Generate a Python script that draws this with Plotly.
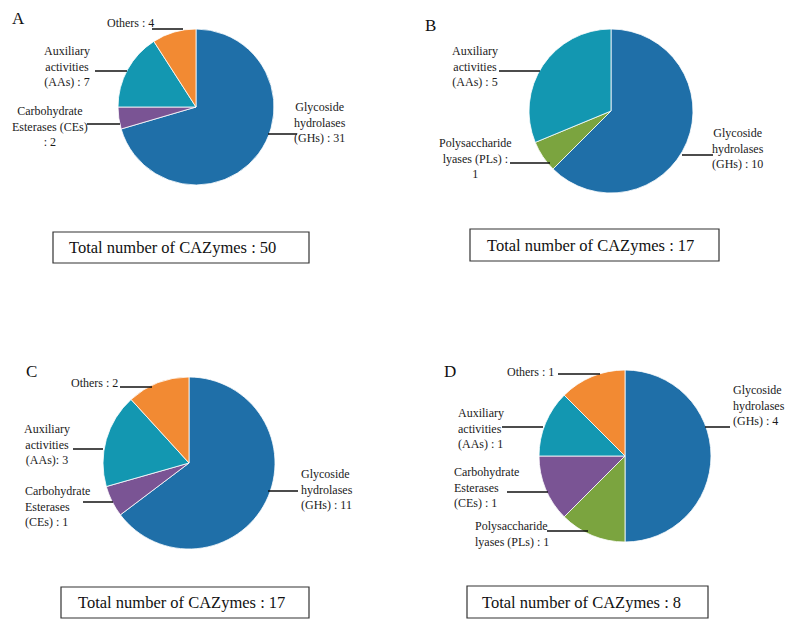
import plotly.graph_objects as go

W, H = 789, 625

# ---------------- data ----------------
cats_A = ["Glycoside hydrolases (GHs)", "Carbohydrate Esterases (CEs)", "Auxiliary activities (AAs)", "Others"]
vals_A = [31, 2, 7, 4]
total_A = 50

cats_B = ["Glycoside hydrolases (GHs)", "Polysaccharide lyases (PLs)", "Auxiliary activities (AAs)"]
vals_B = [10, 1, 5]
total_B = 17

cats_C = ["Glycoside hydrolases (GHs)", "Carbohydrate Esterases (CEs)", "Auxiliary activities (AAs)", "Others"]
vals_C = [11, 1, 3, 2]
total_C = 17

cats_D = ["Glycoside hydrolases (GHs)", "Polysaccharide lyases (PLs)", "Carbohydrate Esterases (CEs)", "Auxiliary activities (AAs)", "Others"]
vals_D = [4, 1, 1, 1, 1]
total_D = 8

colors = {
    "Glycoside hydrolases (GHs)": "#1f6fa8",
    "Carbohydrate Esterases (CEs)": "#7a5494",
    "Auxiliary activities (AAs)": "#1397b1",
    "Others": "#f28a33",
    "Polysaccharide lyases (PLs)": "#7ba43f",
}

# label text templates (line breaks as in the figure)
lab_A = {
    "Glycoside hydrolases (GHs)": "Glycoside<br>hydrolases<br>(GHs) : {}",
    "Carbohydrate Esterases (CEs)": "Carbohydrate<br>Esterases (CEs)<br>: {}",
    "Auxiliary activities (AAs)": "Auxiliary<br>activities<br>(AAs) : {}",
    "Others": "Others : {}",
}
lab_B = {
    "Glycoside hydrolases (GHs)": "Glycoside<br>hydrolases<br>(GHs) : {}",
    "Polysaccharide lyases (PLs)": "Polysaccharide<br>lyases (PLs) :<br>{}",
    "Auxiliary activities (AAs)": "Auxiliary<br>activities<br>(AAs) : {}",
}
lab_C = {
    "Glycoside hydrolases (GHs)": "Glycoside<br>hydrolases<br>(GHs) : {}",
    "Carbohydrate Esterases (CEs)": "Carbohydrate<br>Esterases<br>(CEs) : {}",
    "Auxiliary activities (AAs)": "Auxiliary<br>activities<br>(AAs): {}",
    "Others": "Others : {}",
}
lab_D = {
    "Glycoside hydrolases (GHs)": "Glycoside<br>hydrolases<br>(GHs) : {}",
    "Polysaccharide lyases (PLs)": "Polysaccharide<br>lyases (PLs) : {}",
    "Carbohydrate Esterases (CEs)": "Carbohydrate<br>Esterases<br>(CEs) : {}",
    "Auxiliary activities (AAs)": "Auxiliary<br>activities<br>(AAs) : {}",
    "Others": "Others : {}",
}

# ---------------- layout (pixels) ----------------
# pie: center x, center y, radius
pie_geom = {"A": (196, 107, 78), "B": (611, 111, 82), "C": (189, 463, 86), "D": (625, 456, 86)}
letters = {"A": (18, 18), "B": (430, 25), "C": (32, 372), "D": (450, 372)}
boxes = {"A": (53, 232, 309, 263, 67), "B": (470, 229, 719, 261, 485),
         "C": (61, 587, 309, 618, 76), "D": (467, 586, 708, 618, 480)}
# label placement: (x, y, xanchor, align) and leader line (x0, x1, y)
lab_pos = {
    "A": {
        "Others": ((130, 23, "center", "center"), (152, 183, 29)),
        "Auxiliary activities (AAs)": ((67, 67, "center", "center"), (95, 127, 71)),
        "Carbohydrate Esterases (CEs)": ((50, 126, "center", "center"), (87, 120, 124)),
        "Glycoside hydrolases (GHs)": ((320, 122, "center", "center"), (268, 297, 134)),
    },
    "B": {
        "Auxiliary activities (AAs)": ((475, 67, "center", "center"), (499, 540, 71)),
        "Polysaccharide lyases (PLs)": ((475, 158, "center", "center"), (510, 550, 163)),
        "Glycoside hydrolases (GHs)": ((738, 148, "center", "center"), (682, 713, 155)),
    },
    "C": {
        "Others": ((94, 383, "center", "center"), (120, 152, 387)),
        "Auxiliary activities (AAs)": ((47, 444, "center", "center"), (73, 103, 449)),
        "Carbohydrate Esterases (CEs)": ((23, 506, "left", "left"), (83, 113, 502)),
        "Glycoside hydrolases (GHs)": ((299, 489, "left", "left"), (268, 298, 491)),
    },
    "D": {
        "Others": ((530, 372, "center", "center"), (558, 600, 374)),
        "Glycoside hydrolases (GHs)": ((731, 405, "left", "left"), (705, 730, 427)),
        "Auxiliary activities (AAs)": ((456, 428, "left", "left"), (502, 543, 427)),
        "Carbohydrate Esterases (CEs)": ((452, 487, "left", "left"), (507, 548, 492)),
        "Polysaccharide lyases (PLs)": ((473, 534, "left", "left"), (547, 588, 531)),
    },
}

FONT = "Liberation Serif, Times New Roman, serif"


def px(x):
    return x / W


def py(y):
    return 1 - y / H


panels = {
    "A": (cats_A, vals_A, total_A, lab_A),
    "B": (cats_B, vals_B, total_B, lab_B),
    "C": (cats_C, vals_C, total_C, lab_C),
    "D": (cats_D, vals_D, total_D, lab_D),
}

fig = go.Figure()
annotations = []
shapes = []

for key, (cats, vals, total, labs) in panels.items():
    cx, cy, r = pie_geom[key]
    fig.add_trace(go.Pie(
        labels=cats, values=vals, sort=False, direction="clockwise", rotation=0,
        marker=dict(colors=[colors[c] for c in cats], line=dict(color="white", width=0.8)),
        textinfo="none", hoverinfo="label+value", showlegend=False,
        domain=dict(x=[px(cx - r), px(cx + r)], y=[py(cy + r), py(cy - r)]),
    ))
    lx, ly = letters[key]
    annotations.append(dict(x=px(lx), y=py(ly), xref="paper", yref="paper", text=key,
                            showarrow=False, xanchor="center", yanchor="middle",
                            font=dict(family=FONT, size=17, color="#111")))
    for c, v in zip(cats, vals):
        (tx, ty, xa, al), (x0, x1, yl) = lab_pos[key][c]
        annotations.append(dict(x=px(tx), y=py(ty), xref="paper", yref="paper",
                                text=labs[c].format(v), showarrow=False, xanchor=xa,
                                yanchor="middle", align=al,
                                font=dict(family=FONT, size=12, color="#1a1a1a")))
        shapes.append(dict(type="line", xref="paper", yref="paper",
                           x0=px(x0), x1=px(x1), y0=py(yl), y1=py(yl),
                           line=dict(color="#111", width=1.5)))
    bx0, by0, bx1, by1, tx = boxes[key]
    shapes.append(dict(type="rect", xref="paper", yref="paper",
                       x0=px(bx0), x1=px(bx1), y0=py(by1), y1=py(by0),
                       line=dict(color="#333", width=1.2), fillcolor="rgba(0,0,0,0)"))
    annotations.append(dict(x=px(tx), y=py((by0 + by1) / 2), xref="paper", yref="paper",
                            text=f"Total number of CAZymes : {total}", showarrow=False,
                            xanchor="left", yanchor="middle",
                            font=dict(family=FONT, size=16.5, color="#111")))

fig.update_layout(
    width=W, height=H, margin=dict(l=0, r=0, t=0, b=0),
    paper_bgcolor="white", plot_bgcolor="white",
    annotations=annotations, shapes=shapes,
)

fig.write_html("out.html", config={"displayModeBar": False},
               post_script="document.body.style.margin='0px';document.body.style.overflow='hidden';")
